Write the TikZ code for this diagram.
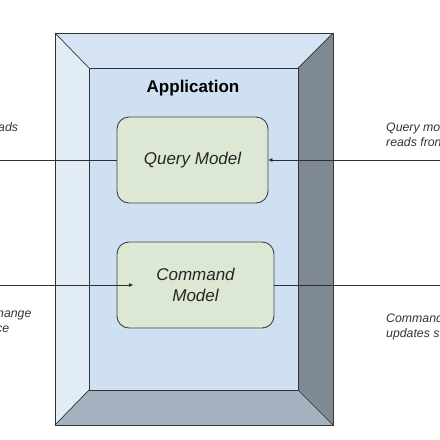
\documentclass[tikz,border=0pt]{standalone}
\usepackage{fontspec}
\setmainfont{Liberation Sans}
\usetikzlibrary{arrows.meta}
\definecolor{bevtop}{HTML}{D5E3F2}
\definecolor{bevleft}{HTML}{E2ECF7}
\definecolor{bevright}{HTML}{7E8994}
\definecolor{bevbottom}{HTML}{A4B2C0}
\definecolor{appbg}{HTML}{CFE0F3}
\definecolor{modelbg}{HTML}{DCE8D3}
\definecolor{modeledge}{HTML}{3E4348}
\definecolor{wire}{HTML}{2B2F33}
\definecolor{notetext}{HTML}{333333}

\begin{document}
\begin{tikzpicture}[x=1pt, y=1pt,
  model/.style={draw=modeledge, line width=0.9pt, fill=modelbg, rounded corners=12pt,
                minimum height=86pt, align=center,
                font=\fontsize{17}{21}\selectfont\itshape, text=black!85},
  face/.style={draw=black!80, line width=0.7pt},
  flow/.style={draw=wire, line width=0.7pt},
  tip/.style={-{Triangle[length=4pt, width=3.5pt]}},
  note/.style={font=\fontsize{12.3}{15}\selectfont\itshape, text=notetext,
               align=left, inner sep=0pt}]
\useasboundingbox (0,0) rectangle (440,-440);
\clip (0,0) rectangle (440,-440);
% bevelled application frame
\coordinate (otl) at (55,-33);  \coordinate (otr) at (333,-33);
\coordinate (obr) at (333,-425); \coordinate (obl) at (55,-425);
\coordinate (itl) at (89,-68);  \coordinate (itr) at (298,-68);
\coordinate (ibr) at (298,-390); \coordinate (ibl) at (89,-390);
\fill[bevtop] (otl) -- (otr) -- (itr) -- (itl) -- cycle;
\fill[bevleft] (otl) -- (itl) -- (ibl) -- (obl) -- cycle;
\fill[bevright] (otr) -- (obr) -- (ibr) -- (itr) -- cycle;
\fill[bevbottom] (obl) -- (ibl) -- (ibr) -- (obr) -- cycle;
\fill[appbg] (itl) rectangle (ibr);
\draw[face] (otl) rectangle (obr);
\draw[face] (itl) rectangle (ibr);
\draw[face] (otl) -- (itl) (otr) -- (itr) (obr) -- (ibr) (obl) -- (ibl);
\node[font=\fontsize{17}{20}\selectfont\bfseries] (app) at (193,-88) {Application};
% models
\node[model, minimum width=151pt] (query) at (192.5,-160) {Query Model};
\node[model, minimum width=157pt] (command) at (195.5,-285) {Command\\Model};
% connectors
\coordinate (qout) at (0,-160);
\coordinate (qin) at (440,-160);
\coordinate (cin) at (0,-285);
\coordinate (cend) at (133,-285);
\coordinate (cout) at (440,-285);
\draw[flow] (query.west) -- (qout);
\draw[flow, tip] (qin) -- (query.east);
\draw[flow, tip] (cin) -- (cend);
\draw[flow] (command.east) -- (cout);
% side notes
\node[note, anchor=base west] (qleft) at (-2,-131) {ads};
\node[note, anchor=base west] (cleft1) at (-3,-317) {hange};
\node[note, anchor=base west] (cleft2) at (-4,-332) {ce};
\node[note, anchor=base west] (qright1) at (386,-131) {Query mo};
\node[note, anchor=base west] (qright2) at (386,-146) {reads fron};
\node[note, anchor=base west] (cright1) at (386,-322) {Command};
\node[note, anchor=base west] (cright2) at (386,-337) {updates s};
\end{tikzpicture}
\end{document}
